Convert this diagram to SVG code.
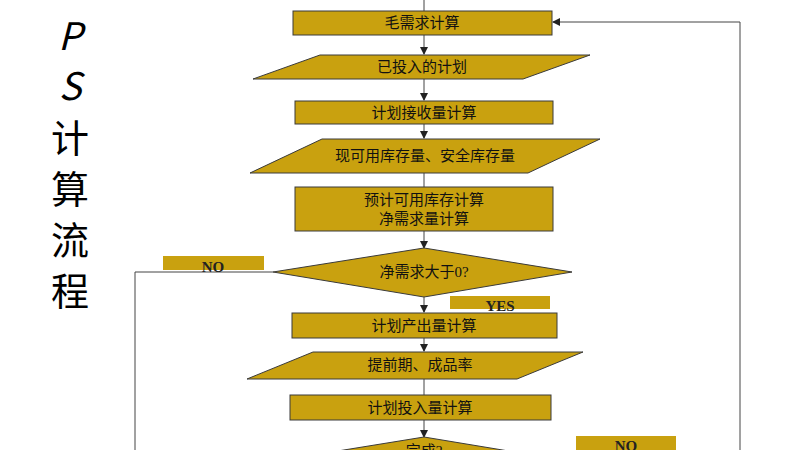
<svg xmlns="http://www.w3.org/2000/svg" width="800" height="450" viewBox="0 0 800 450">
<defs>
<style>
.n{fill:#C9A10F;stroke:#3a3a3a;stroke-width:1}
.t{font-family:"Liberation Serif","Noto Sans CJK SC",serif;font-size:15px;fill:#111;text-anchor:middle}
.l{font-family:"Liberation Serif",serif;font-size:15px;font-weight:bold;fill:#222;text-anchor:middle}
.lb{fill:#C9A10F}
.c{stroke:#444;stroke-width:1;fill:none}
.ttl{font-family:"Noto Sans CJK SC",sans-serif;font-size:38px;fill:#000;text-anchor:middle}
</style>
<marker id="a" markerWidth="8" markerHeight="8" refX="7" refY="4" orient="auto" markerUnits="userSpaceOnUse"><path d="M0,0L8,4L0,8z" fill="#222"/></marker>
</defs>
<rect width="800" height="450" fill="#fff"/>
<g id="title">
<text x="70" y="50" class="ttl" font-style="italic">P</text>
<text x="70" y="100" class="ttl" font-style="italic">S</text>
<text x="70" y="152" class="ttl">计</text>
<text x="70" y="203" class="ttl">算</text>
<text x="70" y="254" class="ttl">流</text>
<text x="70" y="305" class="ttl">程</text>
</g>
<g id="connectors">
<line class="c" x1="424" y1="0" x2="424" y2="11"/>
<line class="c" x1="424" y1="11" x2="424" y2="54" marker-end="url(#a)"/>
<line class="c" x1="424" y1="79" x2="424" y2="100" marker-end="url(#a)"/>
<line class="c" x1="424" y1="124" x2="424" y2="138" marker-end="url(#a)"/>
<line class="c" x1="424" y1="173" x2="424" y2="195" marker-end="url(#a)"/>
<line class="c" x1="424" y1="231" x2="424" y2="248" marker-end="url(#a)"/>
<line class="c" x1="424" y1="297" x2="424" y2="312" marker-end="url(#a)"/>
<line class="c" x1="424" y1="320" x2="424" y2="351" marker-end="url(#a)"/>
<line class="c" x1="424" y1="379" x2="424" y2="405"/>
<line class="c" x1="424" y1="420" x2="424" y2="437" marker-end="url(#a)"/>
<polyline class="c" points="273,272 135,272 135,450"/>
<polyline class="c" points="740,450 740,22 553,22" marker-end="url(#a)"/>
</g>
<g id="n1"><rect class="n" x="293" y="11" width="259" height="24"/><text class="t" x="422" y="28">毛需求计算</text></g>
<g id="n2"><polygon class="n" points="320,55 590,55 523,79 253,79"/><text class="t" x="422" y="72">已投入的计划</text></g>
<g id="n3"><rect class="n" x="295" y="101" width="258" height="23"/><text class="t" x="424" y="118">计划接收量计算</text></g>
<g id="n4"><polygon class="n" points="322,139 600,139 528,173 250,173"/><text class="t" x="425" y="161">现可用库存量、安全库存量</text></g>
<g id="n5"><rect class="n" x="295" y="187" width="258" height="44"/><text class="t" x="424" y="205">预计可用库存计算</text><text class="t" x="424" y="224">净需求量计算</text></g>
<g id="n6"><polygon class="n" points="424,248 572,272 424,297 273,272"/><text class="t" x="424" y="277">净需求大于0?</text></g>
<g id="no1"><rect class="lb" x="163" y="256" width="101" height="14"/><text class="l" x="213" y="272">NO</text></g>
<g id="yes"><rect class="lb" x="450" y="296" width="100" height="13"/><text class="l" x="500" y="311">YES</text></g>
<g id="n7"><rect class="n" x="292" y="313" width="265" height="25"/><text class="t" x="424" y="331">计划产出量计算</text></g>
<g id="n8"><polygon class="n" points="313,352 583,352 517,379 247,379"/><text class="t" x="420" y="370">提前期、成品率</text></g>
<g id="n9"><rect class="n" x="290" y="395" width="261" height="25"/><text class="t" x="420" y="413">计划投入量计算</text></g>
<g id="n10"><polygon class="n" points="424,437 575,462 424,487 270,462"/><text class="t" x="424" y="456">完成?</text></g>
<g id="no2"><rect class="lb" x="576" y="436" width="100" height="20"/><text class="l" x="626" y="451">NO</text></g>
</svg>
